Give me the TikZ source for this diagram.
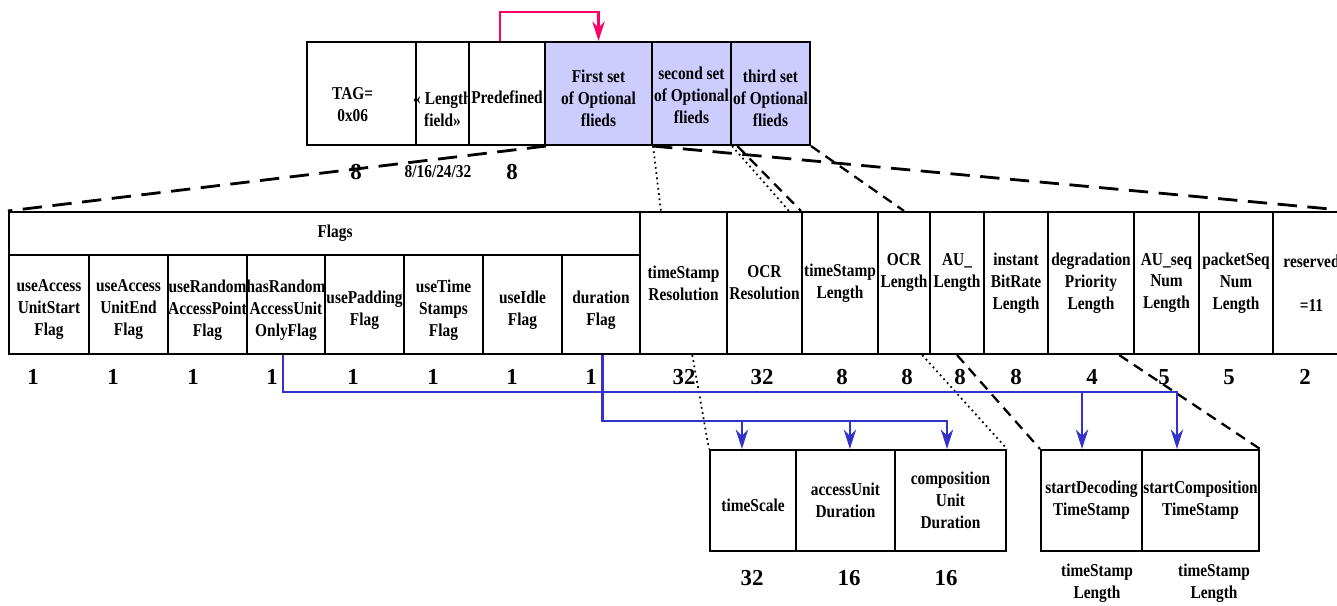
\documentclass[tikz,border=0pt]{standalone}
\usepackage{fontspec}
\setmainfont[FakeStretch=0.85]{Liberation Serif}
\newfontfamily\numfont{Liberation Serif}
\usetikzlibrary{arrows.meta}

\definecolor{optfill}{RGB}{204,204,255}
\definecolor{linkblue}{RGB}{51,51,204}
\definecolor{linkpink}{RGB}{255,0,102}

\tikzset{
  cell/.style={draw, line width=1.2pt, inner sep=0pt},
  celltext/.style={align=center, inner sep=0pt, font=\fontsize{10.3}{12.5}\selectfont\bfseries},
  bits/.style={inner sep=0pt, font=\numfont\bfseries\fontsize{13}{15}\selectfont},
  longdash/.style={line width=1.6pt, dash pattern=on 11pt off 6pt},
  shortdash/.style={line width=1.3pt, dash pattern=on 6pt off 4pt},
  dots/.style={line width=1pt, dotted},
  bluelink/.style={linkblue, line width=1.5pt},
  linktip/.style={-{Stealth[length=11pt,width=7pt,inset=3.5pt]}}
}

\begin{document}
\begin{tikzpicture}[x=0.02cm, y=-0.02cm]
  \useasboundingbox (0,0) rectangle (1337,605);

  % descriptor header
  \foreach \l/\r/\txt/\nm/\fc/\xs/\ys in {307/416/{TAG=\\0x06}/tag/white/-5pt/-6.5pt,
      416/469/{« Length\\field»}/len/white/0pt/-8.8pt,
      469/545/{Predefined}/pre/white/0pt/-2pt,
      545/652/{First set\\of Optional\\flieds}/set1/optfill/0pt/-2.5pt,
      652/731/{second set\\of Optional\\flieds}/set2/optfill/0pt/-1pt,
      731/810/{third set\\of Optional\\flieds}/set3/optfill/0pt/-3pt} {
    \node[cell, fill=\fc, minimum width=(\r-\l)*0.02cm, minimum height=103*0.02cm] (\nm) at ({(\l+\r)/2},93.5) {};
    \node[celltext, xshift=\xs, yshift=\ys] (\nm-t) at (\nm) {\txt};
  }
  \draw[linkpink, line width=1.5pt, linktip] ([xshift=-4pt]pre.north) -- ++(0,-29) -| (set1.north);
  \node[bits] (tag-b) at (356,172) {8};
  \node[celltext] (len-b) at (438,172) {8/16/24/32};
  \node[bits] (pre-b) at (512,172) {8};

  % flags
  \node[cell, minimum width=631*0.02cm, minimum height=43*0.02cm] (flags) at (324.5,233.5) {};
  \node[celltext] (flags-t) at ([xshift=6pt]flags) {Flags};
  \foreach \l/\r/\txt/\nm in {9/89/{useAccess\\UnitStart\\Flag}/fus,
      89/168/{useAccess\\UnitEnd\\Flag}/fue,
      168/247/{useRandom\\AccessPoint\\Flag}/frap,
      247/325/{hasRandom\\AccessUnit\\OnlyFlag}/fhra,
      325/404/{usePadding\\Flag}/fpad,
      404/483/{useTime\\Stamps\\Flag}/fts,
      483/562/{useIdle\\Flag}/fidle,
      562/640/{duration\\Flag}/fdur} {
    \node[cell, minimum width=(\r-\l)*0.02cm, minimum height=99*0.02cm] (\nm) at ({(\l+\r)/2},304.5) {};
    \node[celltext, yshift=-3pt] (\nm-t) at (\nm) {\txt};
  }

  % length fields
  \foreach \l/\r/\txt/\nm/\ys in {640/727/{timeStamp\\Resolution}/tsres/0pt,
      727/802/{OCR\\Resolution}/ocrres/0pt,
      802/878/{timeStamp\\Length}/tslen/0pt,
      878/930/{OCR\\Length}/ocrlen/6pt,
      930/984/{AU\_\\Length}/aulen/6pt,
      984/1048/{instant\\BitRate\\Length}/ibr/0pt,
      1048/1134/{degradation\\Priority\\Length}/dpl/0pt,
      1134/1199/{AU\_seq\\Num\\Length}/ausn/0pt,
      1199/1273/{packetSeq\\Num\\Length}/psn/0pt,
      1273/1350/{reserved\\[12.5pt]=11}/resv/0pt} {
    \node[cell, minimum width=(\r-\l)*0.02cm, minimum height=142*0.02cm] (\nm) at ({(\l+\r)/2},283) {};
    \node[celltext, yshift=\ys] (\nm-t) at (\nm) {\txt};
  }

  \foreach \x/\n [count=\i] in {33/1,113/1,193/1,272/1,353/1,433/1,512/1,591/1,
      684/32,762/32,842/8,907/8,960/8,1016/8,1092/4,1164/5,1229/5,1305/2}
    \node[bits] (bit\i) at (\x,377) {\n};

  % optional sub-fields
  \foreach \l/\r/\txt/\nm/\ys in {710/796/{timeScale}/tscale/-3pt,
      796/895/{accessUnit\\Duration}/aud/0pt,
      895/1006/{composition\\Unit\\Duration}/cud/0pt,
      1041/1142/{startDecoding\\TimeStamp}/sdts/0pt,
      1142/1259/{startComposition\\TimeStamp}/scts/0pt} {
    \node[cell, minimum width=(\r-\l)*0.02cm, minimum height=101*0.02cm] (\nm) at ({(\l+\r)/2},500.5) {};
    \node[celltext, yshift=\ys] (\nm-t) at (\nm) {\txt};
  }
  \node[bits] (tscale-b) at (752,578) {32};
  \node[bits] (aud-b) at (849,578) {16};
  \node[bits] (cud-b) at (946,578) {16};
  \node[celltext] (sdts-b) at (1097,583) {timeStamp\\Length};
  \node[celltext] (scts-b) at (1214,583) {timeStamp\\Length};

  % expansion lines
  \draw[longdash] (pre.south east) -- (flags.north west);
  \draw[longdash] (set1.south east) -- (resv.north east);
  \draw[dots] (set1.south east) -- ([xshift=12.5pt]tsres.north west);
  \draw[dots] (set2.south east) -- ([xshift=-6.8pt]tslen.north west);
  \draw[shortdash] ([xshift=3pt]set2.south east) -- (tslen.north west);
  \draw[shortdash] (set3.south east) -- (ocrlen.north);
  \draw[dots] ([xshift=5pt]tsres.south) -- (tscale.north west);
  \draw[dots] ([xshift=-5pt]ocrlen.south east) -- (cud.north east);
  \draw[shortdash] (aulen.south) -- (sdts.north west);
  \draw[shortdash] ([xshift=-9pt]dpl.south east) -- (scts.north east);

  % flag links
  \draw[bluelink, linktip] ([xshift=-1.7pt]fhra.south) -- ++(0,37) coordinate (busA) -| ([xshift=-13.4pt]scts.north);
  \draw[bluelink, linktip] ([xshift=-5.4pt]sdts.north |- busA) -- ([xshift=-5.4pt]sdts.north);
  \draw[bluelink, linktip] ([xshift=1pt]fdur.south) -- ++(0,66) coordinate (busB) -| ([xshift=-2pt]cud.north);
  \draw[bluelink, linktip] ([xshift=-6.3pt]tscale.north |- busB) -- ([xshift=-6.3pt]tscale.north);
  \draw[bluelink, linktip] ([xshift=2.5pt]aud.north |- busB) -- ([xshift=2.5pt]aud.north);
\end{tikzpicture}
\end{document}
